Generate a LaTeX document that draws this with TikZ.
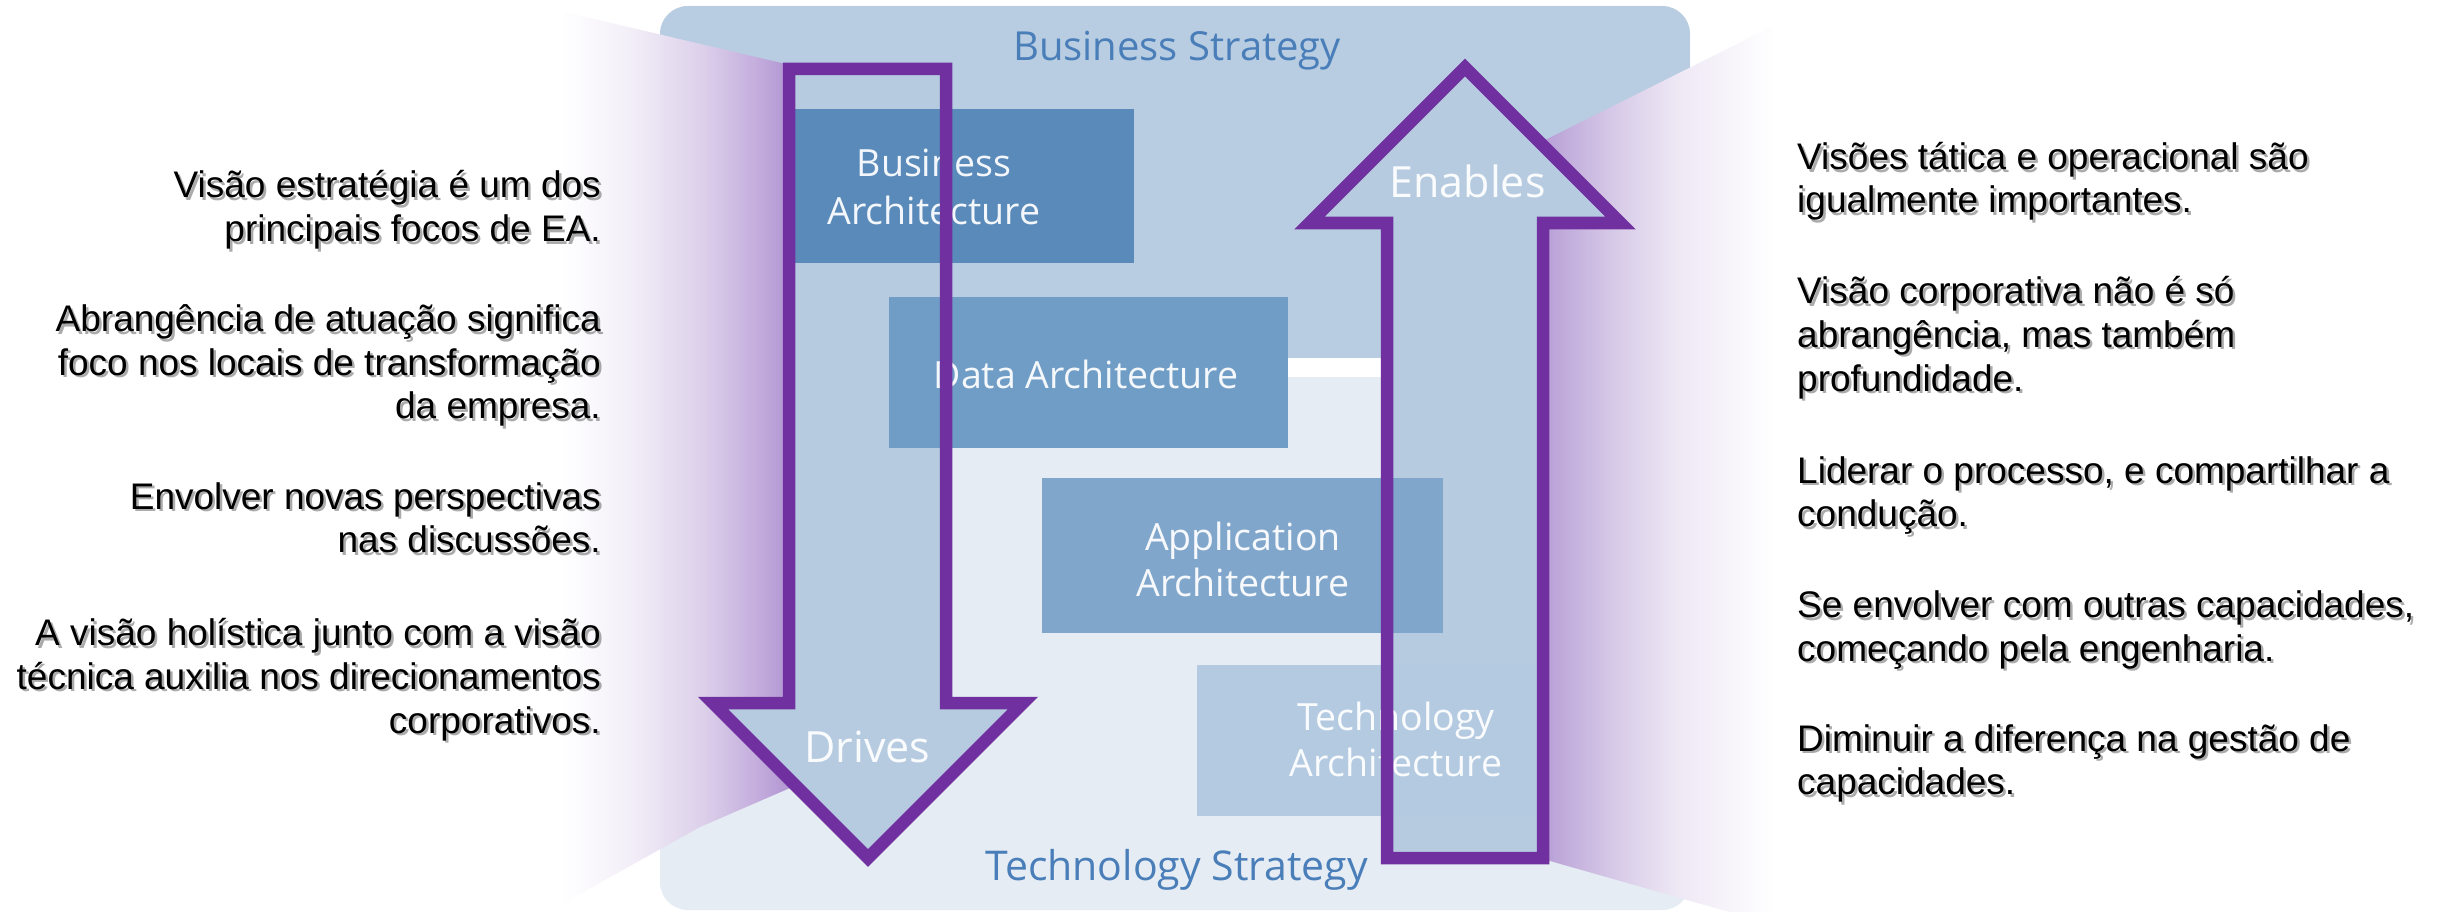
\documentclass[tikz,border=0pt]{standalone}
\usepackage{fontspec}
\setmainfont{Liberation Sans}
\newfontfamily\panelfont{Open Sans}
\definecolor{paneltop}{HTML}{B8CDE2}
\definecolor{panelbot}{HTML}{E5ECF4}
\definecolor{arrowfill}{HTML}{B6CBE0}
\definecolor{arrowline}{HTML}{7030A0}
\definecolor{boxA}{HTML}{5A8ABA}
\definecolor{boxB}{HTML}{709DC6}
\definecolor{boxC}{HTML}{80A7CB}
\definecolor{boxD}{HTML}{B4CAE1}
\definecolor{strat}{HTML}{4A7EB9}
\definecolor{lwA}{HTML}{F3EFF8}
\definecolor{lwB}{HTML}{DCD0EA}
\definecolor{lwC}{HTML}{C4AEDD}
\definecolor{lwD}{HTML}{B195D1}
\definecolor{rwA}{HTML}{B89FD6}
\definecolor{rwB}{HTML}{D6C9E7}
\definecolor{rwC}{HTML}{EEE8F5}
\pgfdeclarehorizontalshading{lwedge}{100bp}{color(0bp)=(white); color(25bp)=(white); color(40bp)=(lwA); color(56bp)=(lwB); color(67.5bp)=(lwC); color(75bp)=(lwD); color(100bp)=(lwD)}
\pgfdeclarehorizontalshading{rwedge}{100bp}{color(0bp)=(rwA); color(25bp)=(rwA); color(40bp)=(rwB); color(54bp)=(rwC); color(75bp)=(white); color(100bp)=(white)}
\newcommand\ealine[4]{%
  \node[sidetxt,text=black!60,opacity=0.55,anchor=#3,xshift=2.5pt,yshift=-2.5pt] (#1s) at (#2) {#4};
  \node[sidetxt,anchor=#3] (#1) at (#2) {#4};}
\begin{document}
\begin{tikzpicture}[x=1pt,y=-1pt,
  sidetxt/.style={inner sep=0pt,font=\fontsize{37}{44}\selectfont,text=black},
  boxtxt/.style={inner sep=0pt,anchor=base,font={\panelfont\fontsize{37.5}{46}\selectfont},text=white,opacity=0.93},
  bigtxt/.style={inner sep=0pt,anchor=base,font={\panelfont\fontsize{43}{50}\selectfont}},
  archbox/.style={rectangle,inner sep=0pt,draw=none},
  arrowpath/.style={draw=arrowline,line width=12.5pt,miter limit=20,line join=miter}]
\useasboundingbox (0,0) rectangle (2438,912);
\clip (0,0) rectangle (2438,912);
\fill[white] (0,0) rectangle (2438,912);
% panel
\fill[panelbot,rounded corners=28pt] (660,6) rectangle (1690,910);
\begin{scope}
  \clip[rounded corners=28pt] (660,6) rectangle (1690,910);
  \fill[paneltop] (660,6) rectangle (1690,358);
  \fill[white] (660,358) rectangle (1690,377);
\end{scope}
% wedges
\shade[shading=lwedge] (560,11) -- (790,65) -- (790,788) -- (700,827) -- (560,905) -- cycle;
\shade[shading=rwedge] (1543,141) -- (1775,25) -- (1775,925) -- (1543,859) -- cycle;
% arrow fills
\fill[arrowfill] (789,69) -- (946,69) -- (946,703) -- (1023,703) -- (868,858) -- (713,703) -- (789,703) -- cycle;
\fill[arrowfill] (1387,858) -- (1543,858) -- (1543,223) -- (1620.5,223) -- (1465,67.5) -- (1309.5,223) -- (1387,223) -- cycle;
% boxes
\node[archbox,fill=boxA,minimum width=344pt,minimum height=154pt] (ba) at (962,186) {};
\node[archbox,fill=boxB,minimum width=399pt,minimum height=151pt] (da) at (1088.5,372.5) {};
\node[archbox,fill=boxC,minimum width=401pt,minimum height=155pt] (aa) at (1242.5,555.5) {};
\node[archbox,fill=boxD,minimum width=346pt,minimum height=151pt] (ta) at (1370,740.5) {};
\node[boxtxt] (ba1) at (934,177) {Business};
\node[boxtxt] (ba2) at (934,224) {Architecture};
\node[boxtxt] (da1) at (1086,388) {Data Architecture};
\node[boxtxt] (aa1) at (1243,550) {Application};
\node[boxtxt] (aa2) at (1243,596) {Architecture};
\node[boxtxt] (ta1) at (1396,730) {Technology};
\node[boxtxt] (ta2) at (1396,776) {Architecture};
% arrow outlines
\draw[arrowpath] (789,69) -- (946,69) -- (946,703) -- (1023,703) -- (868,858) -- (713,703) -- (789,703) -- cycle;
\draw[arrowpath] (1387,858) -- (1543,858) -- (1543,223) -- (1620.5,223) -- (1465,67.5) -- (1309.5,223) -- (1387,223) -- cycle;
% labels
\node[bigtxt,text=strat,font={\panelfont\fontsize{40}{46}\selectfont}] (bs) at (1177,61) {Business Strategy};
\node[bigtxt,text=strat,font={\panelfont\fontsize{41}{46}\selectfont}] (tsg) at (1176.5,880) {Technology Strategy};
\node[bigtxt,text=white,opacity=0.93] (drv) at (867.5,762) {Drives};
\node[bigtxt,text=white,opacity=0.93] (enb) at (1467.5,198) {Enables};
% left texts
\ealine{l1}{601,198}{base east}{Visão estratégia é um dos}
\ealine{l2}{601,241.7}{base east}{principais focos de EA.}
\ealine{l3}{601,331.5}{base east}{Abrangência de atuação significa}
\ealine{l4}{601,375.2}{base east}{foco nos locais de transformação}
\ealine{l5}{601,418.9}{base east}{da empresa.}
\ealine{l6}{601,509}{base east}{Envolver novas perspectivas}
\ealine{l7}{601,552.7}{base east}{nas discussões.}
\ealine{l8}{601,645.6}{base east}{A visão holística junto com a visão}
\ealine{l9}{601,689.3}{base east}{técnica auxilia nos direcionamentos}
\ealine{l10}{601,733}{base east}{corporativos.}
% right texts
\ealine{r1}{1797,170}{base west}{Visões tática e operacional são}
\ealine{r2}{1797,213}{base west}{igualmente importantes.}
\ealine{r3}{1797,303.6}{base west}{Visão corporativa não é só}
\ealine{r4}{1797,347.3}{base west}{abrangência, mas também}
\ealine{r5}{1797,391}{base west}{profundidade.}
\ealine{r6}{1797,483}{base west}{Liderar o processo, e compartilhar a}
\ealine{r7}{1797,526.7}{base west}{condução.}
\ealine{r8}{1797,617.6}{base west}{Se envolver com outras capacidades,}
\ealine{r9}{1797,661.3}{base west}{começando pela engenharia.}
\ealine{r10}{1797,751}{base west}{Diminuir a diferença na gestão de}
\ealine{r11}{1797,794.7}{base west}{capacidades.}
\end{tikzpicture}
\end{document}
